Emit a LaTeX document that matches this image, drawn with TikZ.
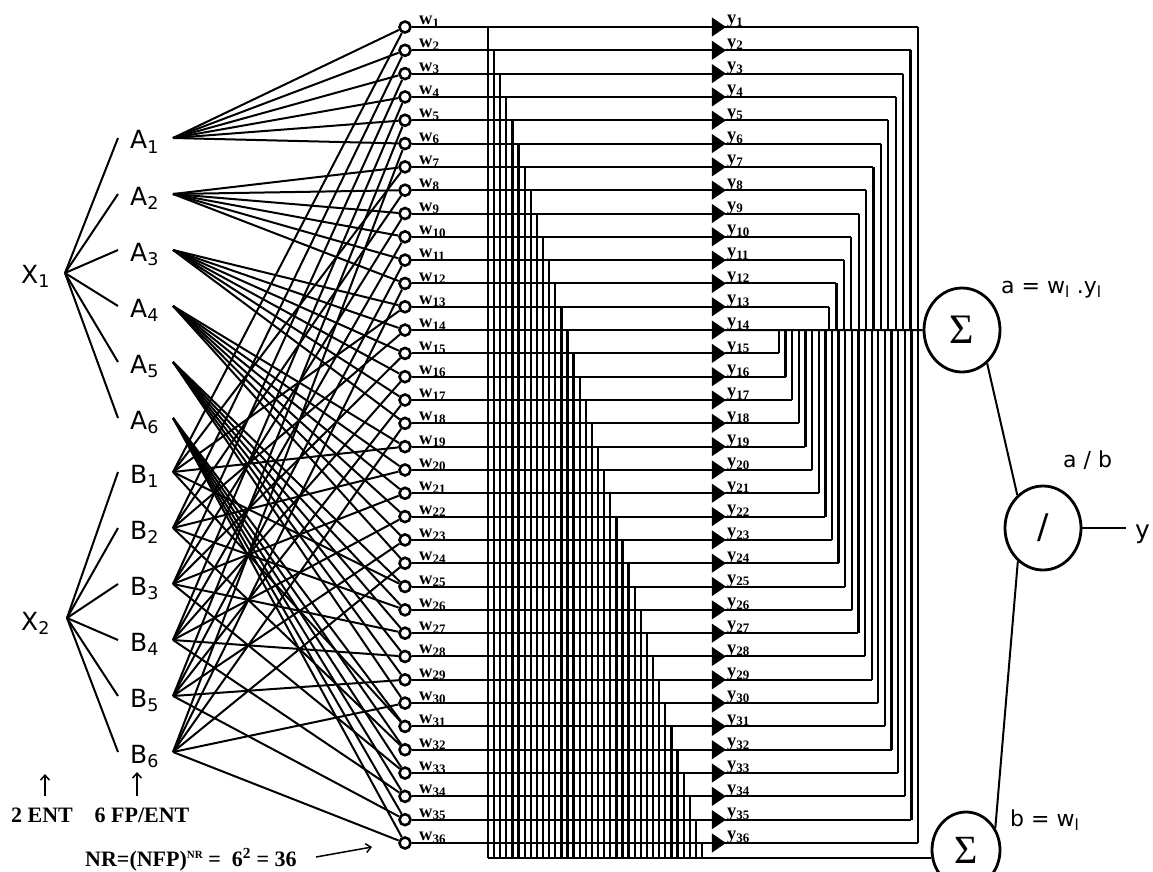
\documentclass[tikz,border=0pt]{standalone}
\usepackage{fontspec}
\setmainfont{Liberation Serif}
\newfontfamily\sansf{DejaVu Sans}
\usetikzlibrary{shapes.geometric,arrows.meta}
\begin{document}
\begin{tikzpicture}[x=1pt,y=-1pt,
  wire/.style={line width=2pt},
  vbus/.style={line width=2.3pt},
  wnode/.style={circle,draw,line width=2.6pt,fill=white,minimum size=11pt,inner sep=0pt},
  tri/.style={draw,line width=2.2pt,fill=black,line join=miter},
  smlab/.style={font=\fontsize{18.5}{18.5}\selectfont\bfseries,inner sep=0pt},
  biglab/.style={font=\sansf\fontsize{25}{25}\selectfont,inner sep=0pt},
  eqlab/.style={font=\sansf\fontsize{22}{22}\selectfont,inner sep=0pt},
  serlab/.style={font=\fontsize{22}{22}\selectfont\bfseries,inner sep=0pt},
  opnode/.style={ellipse,draw,line width=2.8pt,fill=white,minimum width=76pt,minimum height=84pt,inner sep=0pt},
  arr/.style={line width=1.5pt,-{Straight Barb[length=5pt,width=9pt]}}
]
\useasboundingbox (0,0) rectangle (1153,872);

% rule nodes w1..w36, triangles, staircases
\foreach \k in {1,...,36}{
  \pgfmathsetmacro{\yy}{27+(\k-1)*23.314}
  \pgfmathsetmacro{\xv}{488+(\k-1)*6.114}
  \node[wnode] (w\k) at (405,\yy) {};
  \node[smlab,anchor=south west] (wl\k) at (419,\yy+0.5) {w\textsubscript{\k}};
  \coordinate (ti\k) at (712,\yy);
  \coordinate (to\k) at (725,\yy);
  \coordinate (wv\k) at (\xv,\yy);
  \coordinate (wb\k) at (\xv,858);
}

% output operator nodes
\node[opnode] (sa) at (962,330) {\fontsize{42}{42}\selectfont Σ};
\node[opnode] (dv) at (1043,528) {\sansf\fontsize{34}{34}\selectfont /};
\node[opnode,minimum width=68pt,minimum height=76pt] (sb) at (966,850) {\fontsize{40}{40}\selectfont Σ};

\foreach \k in {1,...,36}{
  \pgfmathsetmacro{\yy}{27+(\k-1)*23.314}
  \draw[wire] (w\k) -- (ti\k);
  \draw[vbus] (wv\k) -- (wb\k);
  \ifnum\k=14
    \draw[wire] (to\k) -- (sa);
  \else
    \pgfmathsetmacro{\xr}{ifthenelse(\k<14, 918-(\k-1)*7.42, 779+(\k-15)*6.62)}
    \coordinate (yr\k) at (\xr,\yy);
    \coordinate (yb\k) at (\xr,330);
    \draw[wire] (to\k) -- (yr\k);
    \draw[vbus] (yr\k) -- (yb\k);
  \fi
  \draw[tri] (713,\yy-7.5) -- (724,\yy) -- (713,\yy+7.5) -- cycle;
  \node[smlab,anchor=south west] (yl\k) at (727,\yy+1) {y\textsubscript{\k}};
}
\draw[vbus] (wb1) -- (wb1 -| sb.west);

% inputs
\node[biglab,anchor=base west] (X1) at (21,283) {X\textsubscript{1}};
\node[biglab,anchor=base west] (X2) at (21,630) {X\textsubscript{2}};
\coordinate (X1j) at (65,273);
\coordinate (X2j) at (67,618);

\foreach \n in {1,...,6}{
  \pgfmathsetmacro{\ya}{138+(\n-1)*56}
  \pgfmathsetmacro{\yb}{472+(\n-1)*56}
  \coordinate (Ain\n) at (118,\ya);
  \coordinate (Aout\n) at (173,\ya);
  \coordinate (Bin\n) at (118,\yb);
  \coordinate (Bout\n) at (173,\yb);
  \node[biglab,anchor=base west] (A\n) at (130,\ya+11) {A\textsubscript{\n}};
  \node[biglab,anchor=base west] (B\n) at (130,\yb+11) {B\textsubscript{\n}};
  \draw[wire] (X1j) -- (Ain\n);
  \draw[wire] (X2j) -- (Bin\n);
}
\foreach \n in {1,...,6}{
  \foreach \j in {1,...,6}{
    \pgfmathtruncatemacro{\k}{(\n-1)*6+\j}
    \pgfmathtruncatemacro{\kk}{\n+(\j-1)*6}
    \draw[wire] (Aout\n) -- (w\k);
    \draw[wire] (Bout\n) -- (w\kk);
  }
}

% operator connections
\draw[wire] (sa.-53) -- (dv.128);
\draw[wire] (dv.-127) -- (sb.37);
\coordinate (yend) at (1126,528);
\draw[wire] (dv.east) -- (yend);
\node[biglab,anchor=base west] (yout) at (1135,538) {y};
\node[eqlab,anchor=base west] (alab) at (1001,293) {a = w\textsubscript{l} .y\textsubscript{l}};
\node[eqlab,anchor=base west] (ablab) at (1063,467) {a / b};
\node[eqlab,anchor=base west] (blab) at (1010,826) {b = w\textsubscript{l}};

% bottom notes
\node[serlab,anchor=base] (ent2) at (42,822) {2 ENT};
\node[serlab,anchor=base] (fpent) at (142,822) {6 FP/ENT};
\coordinate (ar1a) at (45,796);
\coordinate (ar1b) at (45,774);
\coordinate (ar2a) at (137,796);
\coordinate (ar2b) at (137,772);
\draw[arr] (ar1a) -- (ar1b);
\draw[arr] (ar2a) -- (ar2b);
\node[serlab,anchor=base west] (nr) at (85,866) {NR=(NFP)\raisebox{8pt}{\fontsize{11}{11}\selectfont NR} =\ \ 6\textsuperscript{2} = 36};
\coordinate (nra) at (316,857);
\coordinate (nrb) at (372,847);
\draw[arr] (nra) -- (nrb);
\end{tikzpicture}
\end{document}
